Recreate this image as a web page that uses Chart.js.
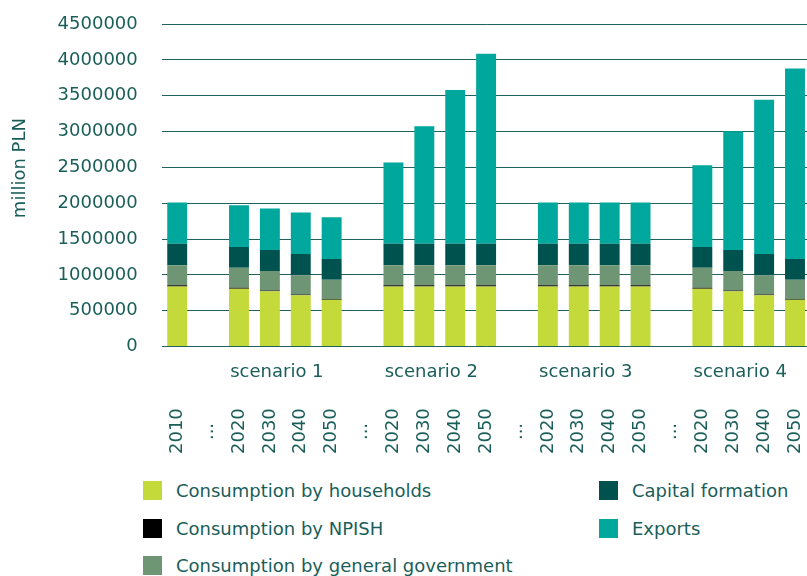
<!DOCTYPE html>
<html lang="en">
<head>
  <meta charset="UTF-8" />
  <title>GDP components by scenario</title>
  <script src="https://cdn.jsdelivr.net/npm/chart.js"></script>
  <style>
    body { margin: 0; overflow: hidden; background: #fff; font-family: "DejaVu Sans", sans-serif; }
    #wrap { position: relative; width: 827px; height: 464px; }
    #legend {
      position: absolute; left: 143px; top: 472px;
      display: grid; grid-template-columns: 456px auto;
      grid-template-rows: repeat(3, 37.5px); grid-auto-flow: column;
      font-size: 18px; color: #1a5e5a;
    }
    #legend .item { display: flex; align-items: center; white-space: nowrap; }
    #legend .box { width: 19px; height: 19px; margin-right: 14px; }
  </style>
</head>
<body>
  <div id="wrap"><canvas id="gdpChart"></canvas></div>
  <div id="legend"></div>

  <script>
    const years = ['2010', '...',
      '2020', '2030', '2040', '2050', '...',
      '2020', '2030', '2040', '2050', '...',
      '2020', '2030', '2040', '2050', '...',
      '2020', '2030', '2040', '2050'];
    const scenarios = ['', '', '', 'scenario 1', '', '', '', '', 'scenario 2', '', '', '', '',
      'scenario 3', '', '', '', '', 'scenario 4', '', ''];

    // million PLN, null = gap column
    const households = [839000, null, 807000, 773000, 717000, 653000, null,
      839000, 839000, 839000, 839000, null,
      839000, 839000, 839000, 839000, null,
      807000, 773000, 717000, 653000];
    const npish = [16000, null, 14000, 10000, 10000, 10000, null,
      16000, 16000, 16000, 16000, null,
      16000, 16000, 16000, 16000, null,
      14000, 10000, 10000, 10000];
    const government = [278000, null, 280000, 270000, 266000, 270000, null,
      278000, 278000, 278000, 278000, null,
      278000, 278000, 278000, 278000, null,
      280000, 270000, 266000, 270000];
    const capital = [303000, null, 288000, 294000, 298000, 288000, null,
      303000, 303000, 303000, 303000, null,
      303000, 303000, 303000, 303000, null,
      288000, 294000, 298000, 288000];
    const exportsVals = [574000, null, 583000, 579000, 579000, 583000, null,
      1133000, 1637000, 2144000, 2648000, null,
      574000, 574000, 574000, 574000, null,
      1142000, 1656000, 2154000, 2658000];

    const textColor = '#1a5e5a';
    Chart.defaults.font.family = '"DejaVu Sans", sans-serif';
    Chart.defaults.font.size = 18;
    Chart.defaults.color = textColor;

    // "..." columns are shifted down a little so they sit in the middle of the year column
    const yearLabels = years.map(y => y === '...' ? '...\u2002 ' : y);

    const chart = new Chart(document.getElementById('gdpChart'), {
      type: 'bar',
      data: {
        labels: yearLabels,
        datasets: [
          { label: 'Consumption by households', data: households, backgroundColor: '#c4d93a' },
          { label: 'Consumption by NPISH', data: npish, backgroundColor: '#000000' },
          { label: 'Consumption by general government', data: government, backgroundColor: '#6e9674' },
          { label: 'Capital formation', data: capital, backgroundColor: '#00524e' },
          { label: 'Exports', data: exportsVals, backgroundColor: '#00a79d' }
        ].map(d => ({ ...d, xAxisID: 'x', borderWidth: 0, categoryPercentage: 1, barPercentage: 0.645 }))
      },
      options: {
        responsive: true,
        maintainAspectRatio: false,
        animation: false,
        layout: { padding: { left: 6, right: 2, top: 24, bottom: 0 } },
        plugins: { legend: { display: false }, tooltip: { enabled: false } },
        scales: {
          x: {
            stacked: true,
            weight: 1,
            grid: { display: false },
            border: { display: false },
            ticks: { autoSkip: false, minRotation: 90, maxRotation: 90, padding: 10 }
          },
          x2: {
            type: 'category',
            position: 'bottom',
            labels: scenarios,
            offset: true,
            weight: 0,
            grid: { display: false },
            border: { display: false },
            ticks: { autoSkip: false, maxRotation: 0, padding: 7, labelOffset: 7 }
          },
          y: {
            stacked: true,
            min: 0,
            max: 4500000,
            border: { display: false },
            // invisible tick marks keep the labels clear of the plot
            grid: { color: '#1f625e', lineWidth: 1, drawTicks: true, tickLength: 21, tickColor: 'transparent' },
            ticks: { stepSize: 500000, padding: 3, callback: v => String(v) },
            // leading spaces lift the title a bit above the plot centre, as in the original
            title: { display: true, text: '      million PLN', padding: { top: 4, bottom: 23 } }
          }
        }
      }
    });

    document.getElementById('legend').innerHTML = chart.data.datasets.map(d =>
      `<div class="item"><span class="box" style="background:${d.backgroundColor}"></span>${d.label}</div>`
    ).join('');
  </script>
</body>
</html>
